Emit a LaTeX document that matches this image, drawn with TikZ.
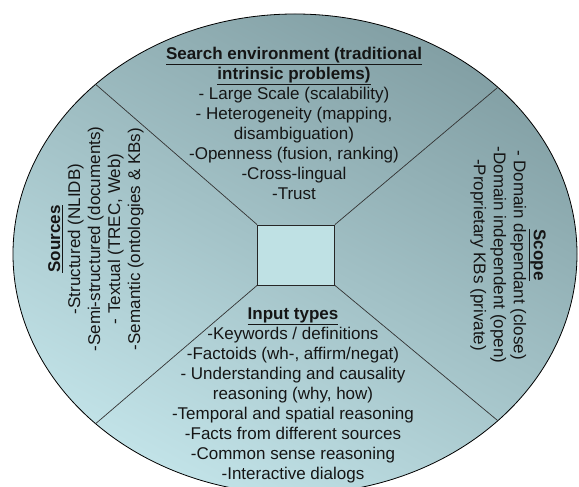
\documentclass[tikz,border=0pt]{standalone}
\usepackage{fontspec}
\setmainfont{Liberation Sans}
\definecolor{ellDark}{HTML}{829FA4}
\definecolor{ellLight}{HTML}{C2E3E8}
\definecolor{hubFill}{HTML}{BFE1E4}
\definecolor{txt}{HTML}{151515}

\begin{document}
\begin{tikzpicture}[x=1pt,y=1pt,
		block/.style={align=center,font=\fontsize{17}{20}\selectfont,text=txt,inner sep=0pt},
		divider/.style={draw=black!80,line width=0.7pt}]
		\useasboundingbox (0,0) rectangle (579,487);
		\clip (0,0) rectangle (579,487);
		\coordinate (c) at (295,233);
		\shade[top color=ellDark,bottom color=ellLight,shading angle=-28,draw=black,line width=0.8pt] (c) ellipse (282 and 240);
		\node[draw=black!85,fill=hubFill,minimum width=77,minimum height=60,line width=0.8pt] (hub) at (296,232) {};
		\coordinate (tl) at ([shift={(135:282 and 240)}]c);
		\coordinate (tr) at ([shift={(44:282 and 240)}]c);
		\coordinate (bl) at ([shift={(225:282 and 240)}]c);
		\coordinate (br) at ([shift={(316:282 and 240)}]c);
		\draw[divider] (hub.north west) -- (tl);
		\draw[divider] (hub.north east) -- (tr);
		\draw[divider] (hub.south west) -- (bl);
		\draw[divider] (hub.south east) -- (br);
		\node[block] (search) at (294,364) {\underline{\textbf{Search environment (traditional}}\\\underline{\textbf{intrinsic problems)}}\\- Large Scale (scalability)\\- Heterogeneity (mapping,\\disambiguation)\\-Openness (fusion, ranking)\\-Cross-lingual\\-Trust};
		\node[block] (input) at (293,92) {\underline{\textbf{Input types}}\\-Keywords / definitions\\-Factoids (wh-, affirm/negat)\\- Understanding and causality\\reasoning (why, how)\\-Temporal and spatial reasoning\\-Facts from different sources\\-Common sense reasoning\\-Interactive dialogs};
		\node[block,rotate=90] (sources) at (96,248) {\underline{\textbf{Sources}}\\-Structured (NLIDB)\\-Semi-structured (documents)\\- Textual (TREC, Web)\\-Semantic (ontologies \& KBs)};
		\node[block,rotate=-90] (scope) at (508,232) {\underline{\textbf{Scope}}\\- Domain dependant (close)\\-Domain independent (open)\\-Proprietary KBs (private)};
	\end{tikzpicture}
\end{document}
